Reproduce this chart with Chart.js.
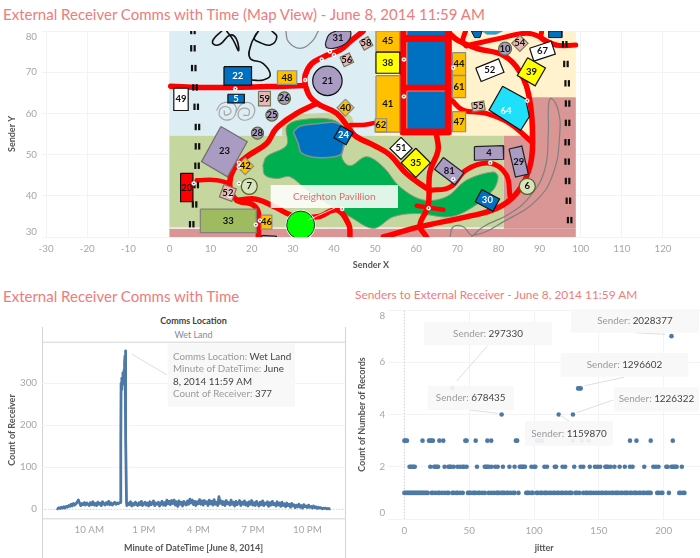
<!DOCTYPE html>
<html>
<head>
<meta charset="utf-8">
<script src="https://cdn.jsdelivr.net/npm/chart.js@4/dist/chart.umd.min.js"></script>
<style>
  html, body { margin: 0; padding: 0; background: #fff; }
  body { position: relative; width: 700px; height: 558px; overflow: hidden; font-family: Lato, sans-serif; }
  canvas { position: absolute; }
  .title { position: absolute; color: #ef7b7b; white-space: nowrap; line-height: 1; }
  .head { position: absolute; left: 42px; width: 303px; text-align: center; white-space: nowrap; }
</style>
</head>
<body>
<div class="title" style="left:3px;top:7px;font-size:15px">External Receiver Comms with Time (Map View) - June 8, 2014 11:59 AM</div>
<div class="title" style="left:3px;top:289px;font-size:15px">External Receiver Comms with Time</div>
<div class="title" style="left:355px;top:289px;font-size:11.9px">Senders to External Receiver - June 8, 2014 11:59 AM</div>
<div class="head" style="top:315px;font-size:9px;font-weight:700;color:#444">Comms Location</div>
<div class="head" style="top:329px;font-size:9px;color:#8a8a8a">Wet Land</div>
<canvas id="mapChart" width="700" height="255" style="left:0;top:25px"></canvas>
<canvas id="timeChart" width="350" height="248" style="left:0;top:310px"></canvas>
<canvas id="jitterChart" width="350" height="258" style="left:350px;top:300px"></canvas>
<script>
// ---- map view data, all in Sender X / Sender Y units ----
const mapXTicks = [-30, -20, -10, 0, 10, 20, 30, 40, 50, 60, 70, 80, 90, 100, 110, 120];
const mapYTicks = [30, 40, 50, 60, 70, 80];

const skyArea = [[0, 54.6], [50, 54.6], [50, 80], [0, 80], [0, 54.6]];
const sandArea = [[50, 54.6], [87.6, 54.6], [87.6, 63.9], [98.8, 63.9], [98.8, 80], [50, 80], [50, 54.6]];
const clayArea = [[81.3, 32], [81.3, 54.6], [87.6, 54.6], [87.6, 63.9], [98.8, 63.9], [98.8, 32], [81.3, 32]];
const clayStrip = [[0, 30], [98.8, 30], [98.8, 32], [0, 32], [0, 30]];
const meadowArea = [[0, 32.3], [81.3, 32.3], [81.3, 54.6], [0, 54.6], [0, 32.3]];
const meadowRim = [[27.4, 54.6], [27.8, 59], [35, 60], [44, 59.5], [44, 54.6], [27.4, 54.6]];
const parkArea = [[22.7, 47.4], [23.6, 49.5], [28.5, 52.3], [28.5, 56.8], [31.7, 58.4], [39.8, 58.4], [43.1, 55.1], [41.9, 49.5],
  [43.9, 47.3], [47.9, 49.5], [52, 47], [56, 42.2], [61.7, 39], [67.4, 39.8], [72.2, 43.8], [78.7, 45.8], [79.9, 44.6], [78.7, 41.4],
  [73.8, 37.3], [68.2, 34.9], [60.1, 35.7], [54.4, 34.9], [49.6, 32.1], [43.9, 34.9], [39.8, 37.3], [33.4, 41.4], [29.3, 44.6],
  [26.1, 44.2], [23.2, 45], [22.7, 47.4]];
const lakeArea = [[30.1, 55.5], [31.7, 56.9], [37, 57.6], [40.6, 57.7], [43.1, 55.5], [42.3, 51.9], [41.5, 49.9], [35.8, 49.3],
  [32.1, 50.4], [31.3, 52.7], [30.1, 55.5]];

const roadWest = [[0.3, 66.6], [7.5, 66.3], [23.7, 66.5], [33, 66.8]];
const roadNorth = [[33, 66.8], [33, 69.3], [34.6, 72.1], [37.4, 73.7], [41.5, 75.4], [43.9, 77.4], [47.1, 80]];
const roadLake = [[33, 66.8], [34.2, 64], [36.6, 62], [40.7, 60], [43.9, 56], [45.5, 54.3], [49.6, 52.3], [53.6, 49.9], [57.6, 45.4], [62.5, 41.8]];
const roadPark = [[35.8, 62.4], [30.9, 60], [26, 56.4], [23.6, 52.7], [18.8, 49.5], [15.5, 46.2], [14.7, 42.2], [16.4, 38.9], [20, 38], [21.6, 36], [21.6, 30]];
const roadLoop = [[16.4, 38.9], [21, 39.2], [25.4, 37.4], [30, 35.2], [36, 34.9], [40.7, 36.6], [43.6, 33], [43.9, 30]];
const roadStub = [[6.6, 43.8], [11.5, 43.8], [14.7, 43]];
const roadPier = [[43.9, 57.2], [47.1, 57.2], [50, 57.7]];
const roadBlock = [[56.8, 80], [56.8, 55.5], [67.8, 55.5], [67.8, 80]];
const roadBlockTop = [[56.8, 78.2], [67.8, 78.2]];
const roadBlockMid = [[56.8, 66.2], [67.8, 66.2]];
const roadSouth = [[64.9, 55], [65.3, 51], [63.3, 45.7], [62.9, 37.6], [60.9, 32.8], [62.5, 30]];
const roadBar = [[60.1, 37.6], [66.6, 36.6]];
const roadBend = [[63.3, 41.3], [68.2, 42.1], [72.2, 46.3], [77.9, 47.9], [81.9, 45.1], [82.8, 39.8]];
const roadEast = [[52, 30], [60.9, 32.5], [72.2, 34.9], [79.5, 36.9], [84.4, 40.6], [87.6, 47], [88.3, 53.5], [87.6, 63.2], [85.2, 70.1], [81.2, 74.1], [74.7, 75.8], [70, 77.8], [68, 79.5]];
const roadFar = [[72.2, 76.4], [80.3, 78.2], [87.6, 79.4], [94, 76.6], [98.8, 76.6]];
const roadFarSpur = [[90.5, 80], [90.5, 78.2], [94, 76.6]];
const roadInner = [[68.6, 63.2], [71.4, 60.8], [77, 60], [82.7, 57.6], [88, 53.1]];
const roadNorthTwo = [[72, 80], [71.3, 77.5], [72.2, 76.4]];

const pathLoopA = [[12.7, 80], [10.7, 78], [10.7, 76.8], [12.3, 76.8], [14.7, 79], [16.2, 78.2], [16.8, 75.2], [15.5, 77.8], [13.9, 80]];
const pathLoopB = [[21.6, 80], [20.6, 78.2], [21.6, 77.4], [24.5, 76.6], [26.1, 78.6], [24.9, 80]];
const pathLoopC = [[21.2, 79.4], [19.8, 76.6], [19.6, 73.4], [22.8, 72.1], [24.5, 69.3], [22.8, 68.1], [20, 68.1]];
const trailNorth = [[28.3, 80], [28.9, 77.4], [31.7, 75.8], [34.6, 77.4], [36.2, 80]];
const trailCoilA = [[11.5, 60.8], [12.7, 62.4], [15.5, 62.4], [16.2, 60.4], [14.7, 58.5], [12.3, 59.2], [12.5, 61.2], [14.3, 61.5], [14.9, 60.2], [13.5, 59.6], [13.3, 60.6]];
const trailCoilB = [[16.2, 60.4], [17.6, 62.3], [20, 62.3], [20.6, 60], [18.8, 58.4], [16.8, 59.2], [17.3, 61], [19.2, 61], [19.2, 59.6], [18, 59.6]];
const trailEast = [[73.4, 30], [76.3, 32.5], [82.8, 35.7], [87.6, 39.8], [91.2, 46.2], [92.1, 55.1], [92.2, 62.4], [92.9, 63.6], [94.5, 60.8],
  [94.9, 55.1], [93.3, 45.4], [89.2, 38.9], [81.9, 34.1], [73.8, 30.4], [71.4, 32.5], [69, 32.5], [68.2, 30]];

const fenceX = [5.7, 5.7, 5.9, 6.2, 6.5, 6.8, 6.8, 6.7, 6.5, 6.1, 5.4, 96.1, 96.4, 96.7, 96.8, 96.8, 96.7, 96.7, 96.8, 97, 97.3];
const fenceY = [80, 75.8, 71, 66.3, 61.6, 56.7, 52, 47.3, 42.6, 37.9, 33.1, 76.8, 72, 67.3, 62.4, 57.7, 53, 48.3, 43.6, 38.8, 34.1];

const buildingNames = ["22", "49", "5", "59", "48", "58", "56", "40", "24", "42", "20", "52", "33", "46", "45", "38", "41", "62", "44", "61", "47", "52", "67", "54", "39", "55", "51", "35", "4", "29", "81", "30"];
const buildingX = [16.6, 2.8, 16.2, 23.1, 28.6, 47.8, 43.1, 42.8, 42.3, 18.4, 4.2, 14.2, 14.3, 23.6, 53.1, 53.1, 53.1, 51.4, 70.4, 70.4, 70.4, 77.9, 90.7, 85.2, 88, 75.1, 56.3, 59.9, 77.7, 84.9, 68, 77.3];
const buildingY = [69.1, 63.4, 63.6, 63.6, 68.7, 77, 73, 61.4, 54.7, 47.2, 42, 40.7, 33.9, 33.6, 77.5, 72.3, 62.3, 57.1, 72, 66.5, 58, 70.5, 75.1, 77, 70.1, 61.7, 51.5, 48, 50.4, 48.3, 46, 38.9];
const buildingW = [6.7, 3.5, 4, 2.9, 4.7, 2.4, 2.5, 2.9, 3.4, 2.9, 3, 3.2, 13.6, 2.6, 5.8, 5.8, 5.8, 2.8, 3.2, 3.2, 3.2, 6, 5.5, 2.8, 5, 3, 3.8, 5, 7, 3.2, 6.2, 4.9];
const buildingH = [4.5, 5.4, 2.1, 3.5, 3.3, 2.4, 2.5, 2.9, 3.4, 2.9, 6.9, 3.2, 5.7, 3.4, 5, 5.1, 13.7, 3.2, 5.5, 5.3, 4.9, 3.5, 3.3, 2.8, 5, 2.2, 3.8, 5, 3.3, 7, 3.6, 3.4];
const buildingTilt = [0, 0, 0, 0, 0, -30, -25, 45, 30, 45, 0, 20, 0, 0, 0, 0, 0, 0, 0, 0, 0, -22, -18, 45, 30, -10, 45, 45, -2, -13, 37, 28];
const buildingKind = ["blue", "white", "blue", "pink", "orange", "pink", "pink", "orange", "blue", "orange", "red", "pink", "olive", "orange", "orange", "yellow", "orange", "orange", "orange", "orange", "orange", "white", "white", "pink", "yellow", "pink", "white", "yellow", "purple", "purple", "purple", "blue"];
const hallNorth = [[57.8, 80], [67, 80], [67, 79], [57.8, 79], [57.8, 80]];
const hallUpper = [[57.8, 77.4], [67, 77.4], [67, 66.9], [57.8, 66.9], [57.8, 77.4]];
const hallLower = [[57.8, 65.4], [67, 65.4], [67, 56.2], [57.8, 56.2], [57.8, 65.4]];
const pavilion23 = [[12.5, 56.8], [18.9, 53.1], [14.1, 44.6], [7.8, 48.3], [12.5, 56.8]];
const pavilion64 = [[81, 66.6], [86.6, 63.5], [87.5, 59.2], [85.4, 55.9], [77.7, 60.8], [81, 66.6]];
const pavilion31 = [[37.9, 76.9], [38.7, 79], [40.7, 80], [43.9, 80], [43.9, 78.2], [42.3, 76.6], [39.8, 75.8], [38.2, 76], [37.9, 76.9]];
const hutEast = [[92.2, 80], [95.4, 80], [95.4, 78.4], [92.2, 78.4], [92.2, 80]];
const hutNorth = [[73.4, 80], [76, 80], [75.5, 78.4], [74.2, 78.4], [73.4, 80]];
const domeNorth = [[76, 80], [81, 80], [79.4, 79.2], [77.2, 79.2], [76, 80]];
const southGate = [[22.4, 30.4], [26, 30.2], [26, 30], [22.4, 30], [22.4, 30.4]];

const roundNames = ["21", "26", "25", "28", "10", "7", "6"];
const roundX = [38.4, 27.9, 24.9, 21.4, 81.6, 19.4, 87];
const roundY = [67.9, 63.7, 59.6, 55.2, 75.7, 42.3, 42.3];
const roundSize = [14.7, 6.3, 6, 6, 6.5, 8, 8];
const roundKind = ["purpleBlack", "purple", "purple", "purple", "purple", "grove", "grove"];

const receiverX = [31.9];
const receiverY = [32.9];

const senderX = [16, 33, 37, 39, 40, 16.9, 16.9, 16.9, 5.9, 14.7, 22, 21, 42, 57, 57, 69, 87, 78, 69, 63];
const senderY = [66, 68.1, 73.1, 75, 74.2, 48, 47, 43, 43, 40, 34, 33, 36.8, 73.1, 64.1, 71.1, 63.1, 48, 44, 37];

const mapLabel = "Creighton Pavillion";

// ---- comms over time, minute of day ----
const timeTicks = [600, 780, 960, 1140, 1320];
const timeLabels = ["10 AM", "1 PM", "4 PM", "7 PM", "10 PM"];
const countTicks = [0, 100, 200, 300];
const morningCounts = [2, 1, 4, 2, 5, 3, 6, 3, 7, 5, 9, 7, 12, 8, 14, 10, 13, 17, 22, 15, 9, 14, 11, 16, 10, 15, 12, 9, 16, 11,
  18, 10, 14, 9, 17, 12, 15, 9, 18, 13, 10, 16, 12, 19, 11, 15, 10, 14, 17, 12, 15, 13, 16];
const spikeMinutes = [703, 704, 705, 707, 708, 710, 711, 713, 715, 716, 717, 718, 719, 720, 721, 723];
const spikeCounts = [16, 150, 300, 285, 312, 298, 325, 308, 332, 318, 350, 365, 377, 340, 170, 15];
const laterCounts = [9, 15, 11, 18, 8, 14, 10, 17, 12, 9,
  16, 11, 19, 9, 13, 17, 10, 15, 8, 18,
  11, 14, 20, 9, 15, 12, 17, 8, 13, 19,
  10, 16, 9, 22, 13, 19, 11, 21, 14, 22,
  10, 18, 7, 20, 12, 17, 8, 19, 13, 10,
  20, 12, 24, 15, 22, 11, 19, 9, 18, 13,
  23, 12, 20, 10, 21, 14, 18, 9, 22, 13,
  19, 10, 23, 12, 17, 9, 30, 14, 20, 11,
  18, 9, 21, 13, 16, 10, 22, 12, 17, 8,
  19, 11, 15, 21, 9, 17, 12, 20, 10, 16,
  8, 18, 12, 21, 10, 16, 9, 19, 13, 8,
  17, 11, 20, 9, 15, 12, 18, 7, 16, 10,
  19, 11, 14, 8, 18, 10, 15, 7, 17, 9,
  13, 6, 15, 9, 12, 5, 14, 8, 11, 4,
  10, 6, 12, 5, 9, 3, 11, 6, 8, 4,
  10, 5, 7, 3, 8, 4, 6, 2, 5, 3,
  4, 1, 3, 2, 3, 1, 2, 1, 2];

// ---- senders by jitter ----
const jitterTicks = [0, 50, 100, 150, 200];
const recordTicks = [0, 2, 4, 6, 8];
const jitterOne = [0, 1, 2, 3, 4, 5, 6, 7, 8, 9, 10, 11, 12, 13, 14, 15, 16, 17, 18, 21, 22, 24, 26, 27, 29, 31, 33, 34, 37, 38, 40, 41, 43, 45, 49, 50, 51, 53, 54, 55, 57, 58, 60, 62, 65, 67, 69, 71, 72, 73, 75, 76, 77, 79, 80, 82, 84, 85, 88, 94, 95, 96, 98, 99, 102, 103, 105, 106, 108, 109, 110, 112, 113, 115, 116, 118, 119, 121, 122, 124, 125, 127, 128, 129, 132, 133, 135, 138, 140, 141, 143, 144, 146, 148, 150, 152, 153, 155, 156, 158, 160, 161, 163, 164, 165, 167, 168, 170, 171, 172, 174, 175, 177, 178, 179, 181, 182, 184, 185, 187, 188, 189, 190, 195, 196, 198, 199, 204, 212, 213, 215, 216];
const jitterTwo = [4, 5, 6, 7, 8, 20, 23, 24, 25, 26, 31, 34, 35, 36, 38, 41, 43, 45, 46, 48, 56, 62, 63, 64, 65, 67, 70, 72, 76, 81, 85, 89, 90, 91, 92, 93, 98, 100, 101, 108, 110, 116, 117, 122, 124, 131, 136, 138, 143, 147, 149, 151, 155, 156, 157, 159, 162, 166, 170, 174, 176, 185, 192, 194, 196, 202, 203, 206, 207, 208, 209, 210, 214];
const jitterThree = [0, 1, 2, 14, 19, 20, 21, 22, 27, 30, 47, 48, 55, 64, 67, 86, 87, 102, 104, 106, 130, 137, 142, 174, 179, 190, 207];
const jitterFour = [75, 119, 130];
const jitterFive = [37, 134, 135, 136];
const jitterSeven = [206];

const GRID = "#f3f3f3";
const TICK = "#a6a6a6";
const TITLE = "#555555";
const FONT = 'Lato, sans-serif';
const MARK = "#4e79a7";

const kindStyle = {
  blue: { fill: "#0070c0", edge: "#111111", text: "#ffffff" },
  white: { fill: "#ffffff", edge: "#111111", text: "#111111" },
  pink: { fill: "#e6b8b7", edge: "#77795a", text: "#111111" },
  orange: { fill: "#ffc000", edge: "#8c8c8c", text: "#111111" },
  red: { fill: "#ff0000", edge: "#111111", text: "#111111" },
  olive: { fill: "#9fbb5f", edge: "#808080", text: "#111111" },
  yellow: { fill: "#ffff00", edge: "#111111", text: "#111111" },
  purple: { fill: "#a99bc1", edge: "#222222", text: "#111111" },
  purpleBlack: { fill: "#a99bc1", edge: "#111111", text: "#111111" },
  grove: { fill: "#d8e4bc", edge: "#4f6228", text: "#111111" },
};
kindStyle.purple.round = "#5b6b3a";

const toPoints = (pairs) => pairs.map(([x, y]) => ({ x, y }));

// corners of a rectangle turned clockwise by tilt degrees, closed
function boxCorners(cx, cy, w, h, tilt) {
  const a = (tilt * Math.PI) / 180;
  const corners = [[-w / 2, h / 2], [w / 2, h / 2], [w / 2, -h / 2], [-w / 2, -h / 2], [-w / 2, h / 2]];
  return corners.map(([dx, dy]) => ({
    x: cx + dx * Math.cos(a) - dy * Math.sin(a),
    y: cy + dx * Math.sin(a) + dy * Math.cos(a),
  }));
}

function area(pairs, fill, edge, edgeWidth, tension) {
  return {
    data: toPoints(pairs), showLine: true, fill: "shape", backgroundColor: fill,
    borderColor: edge || fill, borderWidth: edgeWidth === undefined ? 0 : edgeWidth,
    pointRadius: 0, tension: tension || 0,
  };
}

function road(pairs, width, tension) {
  return {
    data: toPoints(pairs), showLine: true, borderColor: "#ff0000", borderWidth: width, fill: false,
    pointRadius: 0, tension: tension === undefined ? 0.4 : tension, borderCapStyle: "round", borderJoinStyle: "round",
  };
}

function trail(pairs, color, width) {
  return {
    data: toPoints(pairs), showLine: true, borderColor: color, borderWidth: width, fill: false,
    pointRadius: 0, tension: 0.45, borderCapStyle: "round",
  };
}

function dots(xs, ys, radius, fill, edge, edgeWidth) {
  return {
    data: xs.map((x, i) => ({ x, y: ys[i] })), showLine: false, pointRadius: radius, pointHoverRadius: radius,
    pointBackgroundColor: fill, pointBorderColor: edge, pointBorderWidth: edgeWidth,
  };
}

const mapSets = [
  area(skyArea, "#dcedf4"),
  area(sandArea, "#fff2cc"),
  area(clayArea, "#d99694"),
  area(meadowArea, "#c6d69f"),
  area(clayStrip, "#d99694"),
  area(meadowRim, "#c6d69f", "#c6d69f", 0, 0.3),
  area(parkArea, "#00b050", "#8c9a80", 1, 0.35),
  area(lakeArea, "#0070c0", "#808f9a", 1.5, 0.35),
  trail(pathLoopA, "#111111", 1.6),
  trail(pathLoopB, "#111111", 1.6),
  trail(pathLoopC, "#111111", 1.6),
  trail(trailNorth, "#8a8a8a", 1.3),
  trail(trailCoilA, "#a6a6a6", 1.2),
  trail(trailCoilB, "#a6a6a6", 1.2),
  trail(trailEast, "#808080", 1.2),
  area(hallNorth, "#0070c0"),
  area(hallUpper, "#0070c0"),
  area(hallLower, "#0070c0"),
  road(roadWest, 5.5),
  road(roadNorth, 5.5),
  road(roadLake, 5.5),
  road(roadPark, 5.5),
  road(roadLoop, 5.5),
  road(roadStub, 4.5),
  road(roadPier, 4.5),
  road(roadBlock, 7, 0),
  road(roadBlockTop, 7, 0),
  road(roadBlockMid, 6, 0),
  road(roadSouth, 5.5),
  road(roadBar, 4.5, 0),
  road(roadBend, 5),
  road(roadEast, 5.5),
  road(roadFar, 5),
  road(roadFarSpur, 5),
  road(roadInner, 5),
  road(roadNorthTwo, 5),
  area(hutEast, "#0070c0", "#111111", 1),
  area(domeNorth, "#1fa8d8", "#5a8a9a", 0.6),
  area(hutNorth, "#0070c0", "#111111", 1),
  area(southGate, "#ffffff", "#111111", 1),
  {
    data: fenceX.map((x, i) => ({ x: x - 0.42, y: fenceY[i] })), showLine: false, pointStyle: "line",
    pointRadius: 3.2, rotation: 90, pointBorderColor: "#111111", pointBorderWidth: 2.2,
  },
  {
    data: fenceX.map((x, i) => ({ x: x + 0.42, y: fenceY[i] })), showLine: false, pointStyle: "line",
    pointRadius: 3.2, rotation: 90, pointBorderColor: "#111111", pointBorderWidth: 2.2,
  },
  area(pavilion23, "#a99bc1", "#6f6f6f", 1.2),
  area(pavilion64, "#1fe0fb", "#111111", 1.2),
  area(pavilion31, "#a99bc1", "#222222", 1.2, 0.3),
];
buildingNames.forEach((name, i) => {
  const style = kindStyle[buildingKind[i]];
  const outline = boxCorners(buildingX[i], buildingY[i], buildingW[i], buildingH[i], -buildingTilt[i]);
  mapSets.push({
    data: outline, showLine: true, fill: "shape", backgroundColor: style.fill, borderColor: style.edge,
    borderWidth: 1.2, pointRadius: 0,
  });
});
roundNames.forEach((name, i) => {
  const style = kindStyle[roundKind[i]];
  mapSets.push(dots([roundX[i]], [roundY[i]], roundSize[i], style.fill, style.round || style.edge, 1.2));
});
mapSets.push(dots(receiverX, receiverY, 15, "#ffffff", "#ffffff", 0));
mapSets.push(dots(receiverX, receiverY, 14, "#00ff00", "#111111", 0.8));
mapSets.push(dots(senderX, senderY, 2, "#ffffff", "#ffffff", 0.5));
mapSets.push(dots(senderX, senderY, 0.8, "#2a5a3a", "#2a5a3a", 0));
// later arrays sit on top
mapSets.forEach((set, i) => { set.order = mapSets.length - i; });

const callouts = {
  mapChart: [
    {
      box: [270.7, 185, 127.3, 23], fill: "rgba(255,255,255,0.87)", lead: [308, 220, 335, 208], leadColor: "rgba(255,255,255,0.8)",
      rows: [{ at: [334.3, 196.5], center: true, parts: [[mapLabel, "#e9696a"]] }], size: 10,
    },
  ],
  timeChart: [
    {
      box: [167.7, 343.3, 127.3, 63.4], fill: "rgba(248,248,248,0.95)", lead: [131.7, 354, 167, 375],
      rows: [
        { at: [173, 356.7], parts: [["Comms Location: ", "#9a9a9a"], ["Wet Land", "#444444"]] },
        { at: [173, 369.3], parts: [["Minute of DateTime: ", "#9a9a9a"], ["June", "#444444"]] },
        { at: [173, 381.7], parts: [["8, 2014 11:59 AM", "#444444"]] },
        { at: [173, 394.3], parts: [["Count of Receiver: ", "#9a9a9a"], ["377", "#444444"]] },
      ],
      size: 9.8,
    },
  ],
  jitterChart: [
    ["297330", [424, 321.7, 128, 23.6], [487.7, 345.7, 456.7, 381]],
    ["2028377", [571, 309.3, 128, 23.4], [635, 332.7, 665, 334.3]],
    ["1296602", [560.7, 353, 127.6, 23.7], [624, 377.3, 585, 385.7]],
    ["678435", [427.7, 385.7, 86, 24.3], [470, 410, 497.7, 413.3]],
    ["1226322", [614, 387.3, 85, 24], [613.3, 400, 576.7, 412.7]],
    ["1159870", [525, 421, 88, 24.7], [569, 421, 560, 415]],
  ].map(([sender, box, lead]) => ({
    box, fill: "rgba(248,248,248,0.93)", lead,
    rows: [{ at: [box[0] + box[2] / 2, box[1] + box[3] / 2], center: true, parts: [["Sender: ", "#9a9a9a"], [sender, "#444444"]] }],
    size: 9.9,
  })),
};

// callouts are laid out in page pixels, so take the canvas offset off
const calloutPlugin = {
  id: "callouts",
  afterDatasetsDraw(chart) {
    const items = callouts[chart.canvas.id] || [];
    const ox = chart.canvas.offsetLeft;
    const oy = chart.canvas.offsetTop;
    const ctx = chart.ctx;
    ctx.save();
    items.forEach((item) => {
      if (item.lead) {
        ctx.strokeStyle = item.leadColor || "#dedede";
        ctx.lineWidth = 1;
        ctx.beginPath();
        ctx.moveTo(item.lead[0] - ox, item.lead[1] - oy);
        ctx.lineTo(item.lead[2] - ox, item.lead[3] - oy);
        ctx.stroke();
      }
      ctx.fillStyle = item.fill;
      ctx.fillRect(item.box[0] - ox, item.box[1] - oy, item.box[2], item.box[3]);
      ctx.font = `${item.size}px ${FONT}`;
      ctx.textBaseline = "middle";
      ctx.textAlign = "left";
      item.rows.forEach((row) => {
        const full = row.parts.reduce((sum, p) => sum + ctx.measureText(p[0]).width, 0);
        let x = row.at[0] - ox - (row.center ? full / 2 : 0);
        row.parts.forEach(([text, color]) => {
          ctx.fillStyle = color;
          ctx.fillText(text, x, row.at[1] - oy);
          x += ctx.measureText(text).width;
        });
      });
    });
    ctx.restore();
  },
};

// building numbers on the map
const buildingLabelPlugin = {
  id: "buildingLabels",
  afterDatasetsDraw(chart) {
    if (chart.canvas.id !== "mapChart") return;
    const { ctx, scales } = chart;
    const put = (text, x, y, color) => {
      ctx.fillStyle = color;
      ctx.fillText(text, scales.x.getPixelForValue(x), scales.y.getPixelForValue(y));
    };
    ctx.save();
    ctx.beginPath();
    ctx.rect(chart.chartArea.left, chart.chartArea.top, chart.chartArea.width, chart.chartArea.height);
    ctx.clip();
    ctx.font = `700 9.5px ${FONT}`;
    ctx.textAlign = "center";
    ctx.textBaseline = "middle";
    buildingNames.forEach((name, i) => put(name, buildingX[i], buildingY[i], kindStyle[buildingKind[i]].text));
    roundNames.forEach((name, i) => put(name, roundX[i], roundY[i], "#111111"));
    put("23", 13.4, 50.8, "#111111");
    put("64", 81.8, 60.7, "#ffffff");
    put("31", 41, 78.4, "#111111");
    ctx.restore();
  },
};

// Tableau pulls the first and last y labels inside the plot
const edgeLabelPlugin = {
  id: "edgeLabels",
  afterDraw(chart) {
    const opts = chart.options.plugins.edgeLabels;
    if (!opts || !opts.shifts) return;
    const { ctx, scales } = chart;
    ctx.save();
    ctx.font = `9.8px ${FONT}`;
    ctx.fillStyle = TICK;
    ctx.textAlign = "right";
    ctx.textBaseline = "middle";
    opts.shifts.forEach(([value, shift]) => {
      ctx.fillText(String(value), scales.y.left + scales.y.width - opts.padding, scales.y.getPixelForValue(value) + shift);
    });
    ctx.restore();
  },
};

// pane frame and axis rule of the time chart
const frameLinesPlugin = {
  id: "frameLines",
  beforeDraw(chart) {
    if (chart.canvas.id !== "timeChart") return;
    const ctx = chart.ctx;
    const area = chart.chartArea;
    ctx.save();
    ctx.strokeStyle = "#d4d4d4";
    ctx.lineWidth = 1;
    ctx.beginPath();
    ctx.moveTo(area.left + 0.5, 17);
    ctx.lineTo(area.left + 0.5, chart.height);
    ctx.moveTo(area.right + 0.5, 17);
    ctx.lineTo(area.right + 0.5, chart.height);
    ctx.moveTo(area.left, area.top + 0.5);
    ctx.lineTo(area.right, area.top + 0.5);
    ctx.moveTo(area.left, area.bottom + 0.5);
    ctx.lineTo(area.right, area.bottom + 0.5);
    ctx.stroke();
    ctx.restore();
  },
};

Chart.register(calloutPlugin, buildingLabelPlugin, edgeLabelPlugin, frameLinesPlugin);

function axis(min, max, tickValues, config) {
  return {
    type: "linear",
    position: config.position,
    min,
    max,
    bounds: "data",
    afterBuildTicks(scale) { scale.ticks = tickValues.map((value) => ({ value })); },
    afterFit(scale) {
      if (config.position === "left") scale.width = config.size;
      else scale.height = config.size;
      // plot box is set by hand, labels may hang past it
      scale.paddingLeft = scale.paddingRight = scale.paddingTop = scale.paddingBottom = 0;
    },
    grid: { color: config.gridColor || GRID, drawTicks: false, lineWidth: 1 },
    border: { display: false },
    ticks: {
      autoSkip: false,
      maxRotation: 0,
      padding: config.tickPadding,
      color: TICK,
      font: { family: FONT, size: 9.8 },
      callback: config.format || ((value) => value),
    },
    title: {
      display: true,
      text: config.title,
      color: TITLE,
      font: { family: FONT, size: 9, weight: 700 },
      padding: config.titlePadding,
    },
  };
}

new Chart(document.getElementById("mapChart"), {
  type: "scatter",
  data: { datasets: mapSets },
  options: {
    responsive: false,
    animation: false,
    layout: { autoPadding: false, padding: { top: 6 } },
    plugins: {
      legend: { display: false },
      tooltip: { enabled: false },
      edgeLabels: { padding: 5, shifts: [[80, 5.5], [30, -5.5]] },
    },
    scales: {
      x: axis(-31, 129, mapXTicks, { position: "bottom", size: 43, tickPadding: 6, title: "Sender X", titlePadding: { top: 0, bottom: 10 } }),
      y: axis(30, 80, mapYTicks, {
        position: "left", size: 42, tickPadding: 5, title: "Sender Y", titlePadding: { top: 7, bottom: 0 },
        format: (value) => (value === 80 || value === 30 ? "" : value),
      }),
    },
  },
});

const morningMinutes = morningCounts.map((_, i) => 492 + i * 4);
const laterMinutes = laterCounts.map((_, i) => 724 + i * 4);
const commMinutes = [...morningMinutes, ...spikeMinutes, ...laterMinutes];
const commCounts = [...morningCounts, ...spikeCounts, ...laterCounts];

new Chart(document.getElementById("timeChart"), {
  type: "scatter",
  data: {
    datasets: [
      {
        data: commMinutes.map((x, i) => ({ x, y: commCounts[i] })),
        showLine: true, borderColor: MARK, borderWidth: 2.8, pointRadius: 0, borderJoinStyle: "round", order: 1,
      },
      {
        data: [{ x: 444, y: 0 }, { x: 1444, y: 0 }],
        showLine: true, borderColor: "#d0d0d0", borderWidth: 1, borderDash: [1, 2], pointRadius: 0, order: 2,
      },
    ],
  },
  options: {
    responsive: false,
    animation: false,
    layout: { autoPadding: false, padding: { top: 31.7, right: 5 } },
    plugins: { legend: { display: false }, tooltip: { enabled: false } },
    scales: {
      x: axis(444, 1444, timeTicks, {
        position: "bottom", size: 39.7, tickPadding: 6, title: "Minute of DateTime [June 8, 2014]", titlePadding: { top: 0, bottom: 5 },
        format: (value) => timeLabels[timeTicks.indexOf(value)], gridColor: "rgba(0,0,0,0)",
      }),
      y: axis(-21.4, 399, countTicks, { position: "left", size: 42, tickPadding: 5, title: "Count of Receiver", titlePadding: { top: 7, bottom: 0 } }),
    },
  },
});

const recordPoints = [
  [jitterOne, 1], [jitterTwo, 2], [jitterThree, 3], [jitterFour, 4], [jitterFive, 5], [jitterSeven, 7],
].flatMap(([values, count]) => values.map((x) => ({ x, y: count })));

new Chart(document.getElementById("jitterChart"), {
  type: "scatter",
  data: {
    datasets: [
      { data: recordPoints, pointRadius: 2.3, pointBackgroundColor: MARK, pointBorderWidth: 0, order: 1 },
      {
        data: [{ x: 0, y: 0 }, { x: 0, y: 8 }],
        showLine: true, borderColor: "#cfcfcf", borderWidth: 1, borderDash: [1, 2], pointRadius: 0, order: 2,
      },
    ],
  },
  options: {
    responsive: false,
    animation: false,
    layout: { autoPadding: false, padding: { top: 10 } },
    plugins: {
      legend: { display: false },
      tooltip: { enabled: false },
      edgeLabels: { padding: 3, shifts: [[8, 5.5], [0, -6.5]] },
    },
    scales: {
      x: axis(-12.4, 228, jitterTicks, { position: "bottom", size: 39, tickPadding: 6, title: "jitter", titlePadding: { top: 0, bottom: 5 } }),
      y: axis(0, 8, recordTicks, {
        position: "left", size: 38.3, tickPadding: 3, title: "Count of Number of Records", titlePadding: { top: 7, bottom: 0 },
        format: (value) => (value === 8 || value === 0 ? "" : value),
      }),
    },
  },
});
</script>
</body>
</html>
